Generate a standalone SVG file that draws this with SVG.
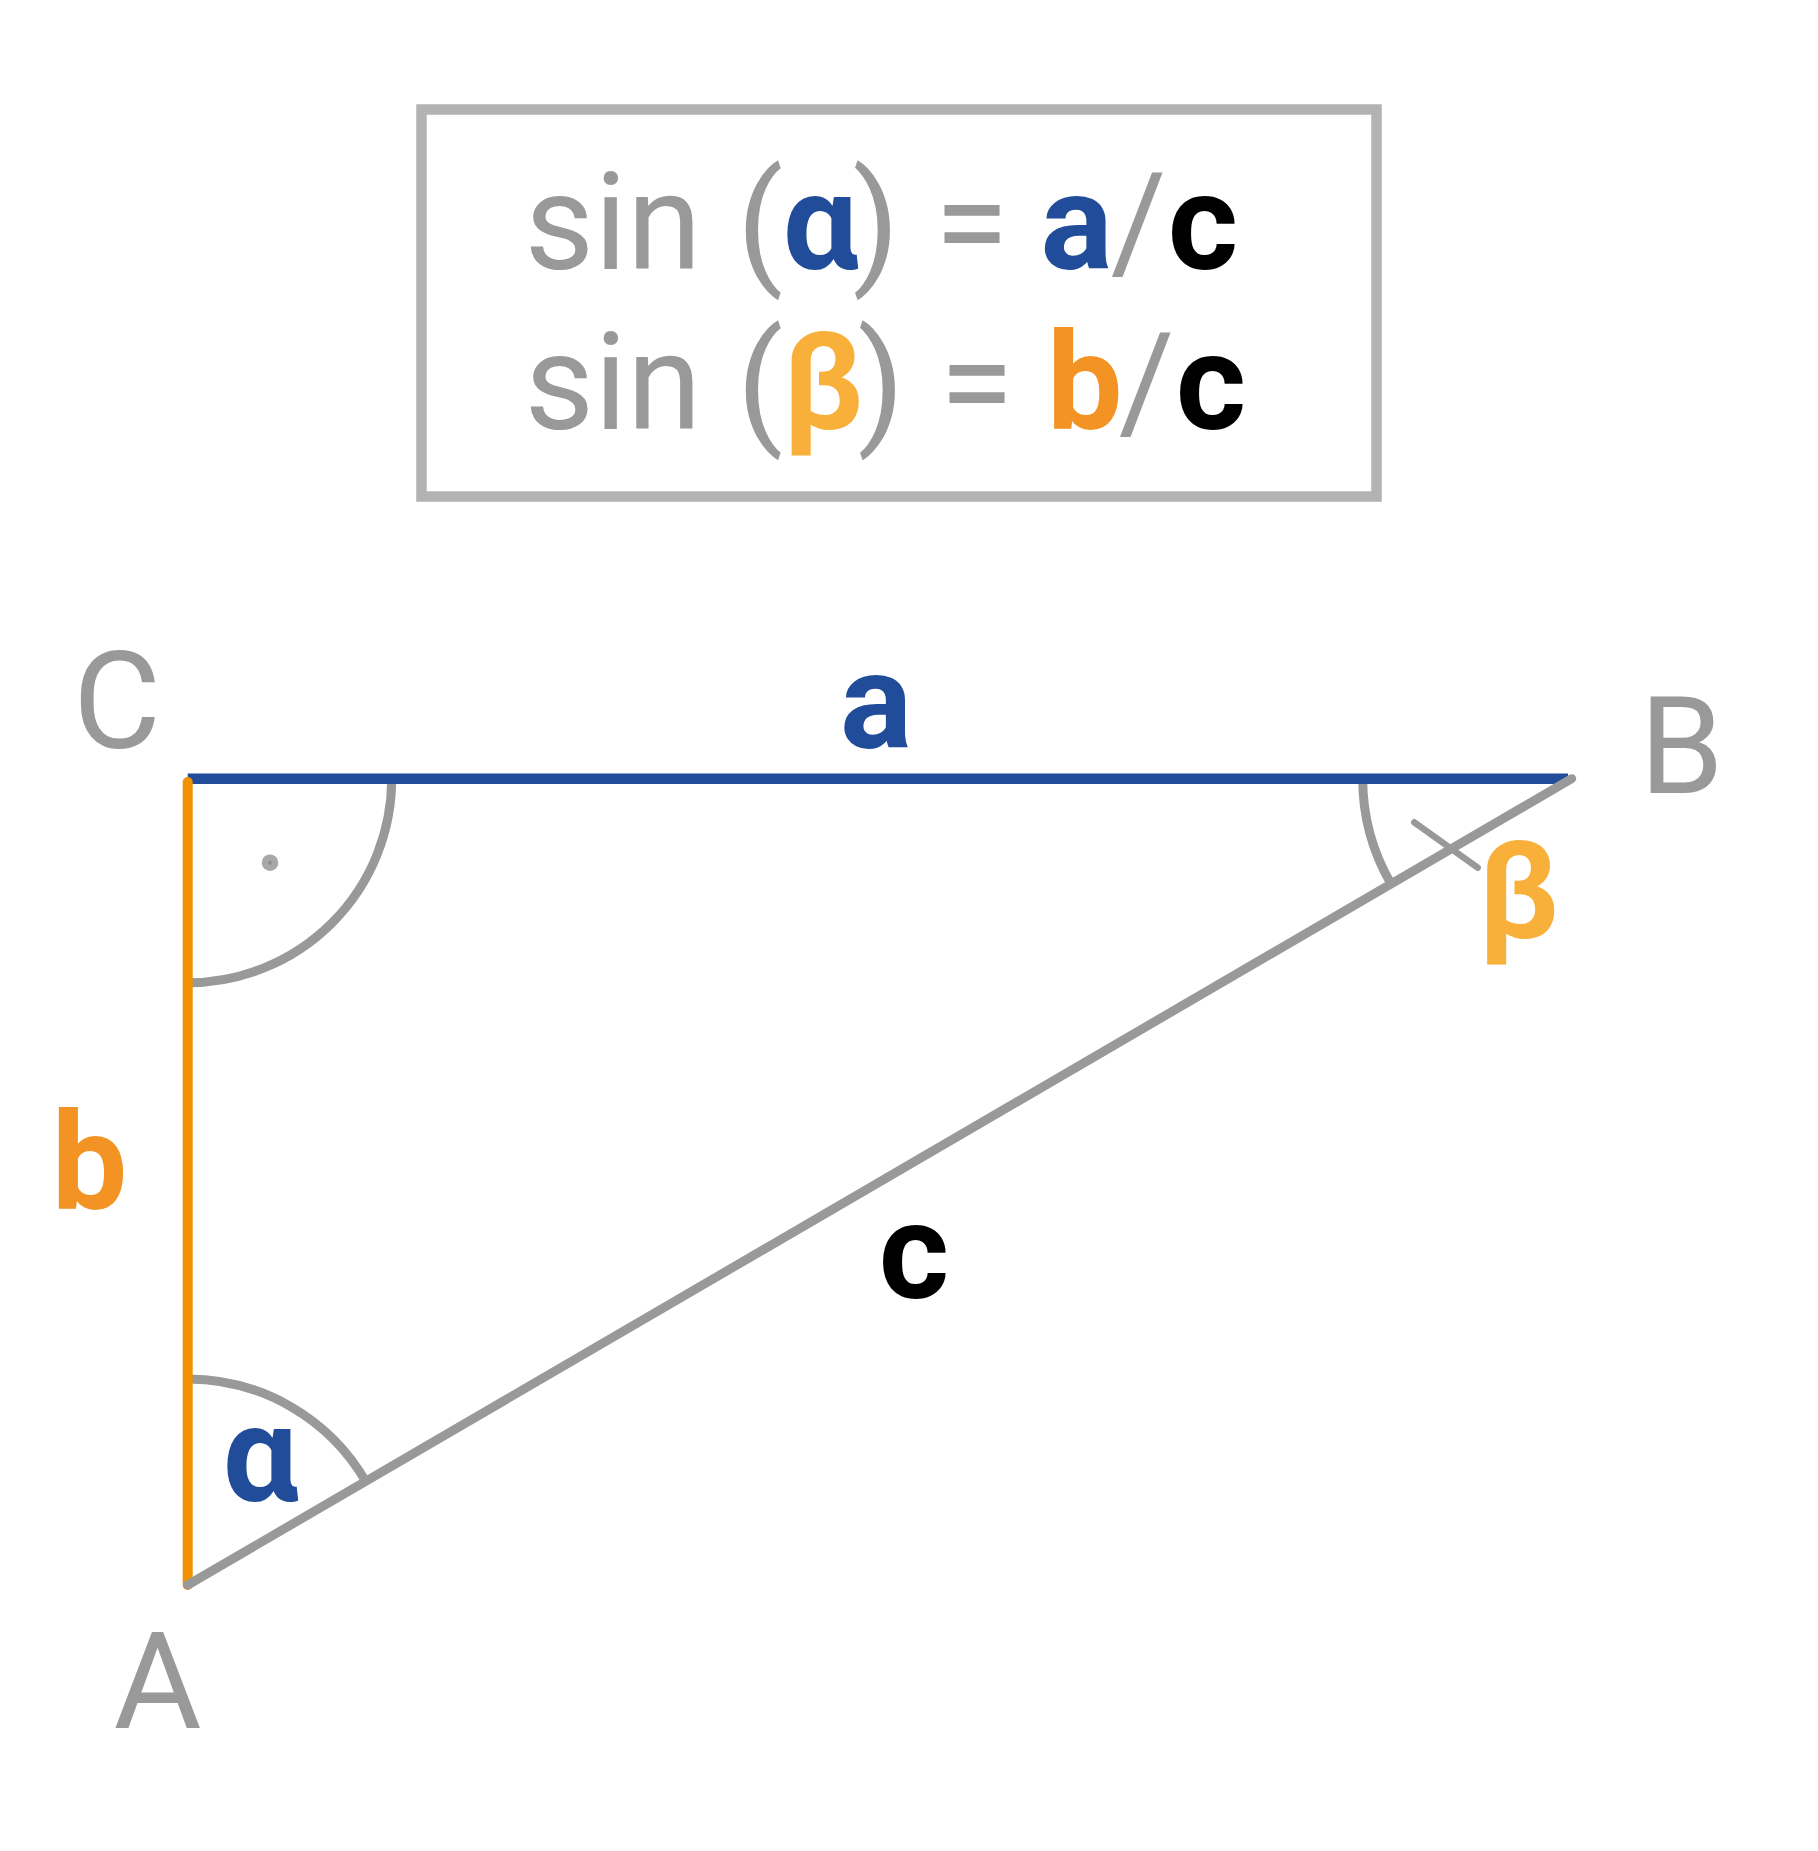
<svg xmlns="http://www.w3.org/2000/svg" width="1818" height="1851" viewBox="0 0 1818 1851">
<style>
text{font-family:Roboto,"Liberation Sans",sans-serif;font-size:135px;text-anchor:middle}
.g{fill:#999999;font-weight:400}
.bl{fill:#214c9a;font-weight:700}
.or{fill:#f39323;font-weight:700}
.ye{fill:#f8b03b;font-weight:700}
.bk{fill:#000000;font-weight:700}
.arc{fill:none;stroke:#999999;stroke-width:9}
</style>
<rect width="1818" height="1851" fill="#ffffff"/>
<g id="formula-box">
<rect x="421.5" y="109.5" width="955" height="387" fill="none" stroke="#b3b3b3" stroke-width="10.5"/>
<text id="formula-1"><tspan class="g" x="613" y="269">sin</tspan><tspan class="g" x="760" y="269">(</tspan><tspan class="bl" x="820.5" y="269">α</tspan><tspan class="g" x="876" y="269">)</tspan><tspan class="g" x="971.5" y="269">=</tspan><tspan class="bl" x="1076.5" y="269">a</tspan><tspan class="g" x="1138.5" y="269">/</tspan><tspan class="bk" x="1203" y="269">c</tspan></text>
<text id="formula-2"><tspan class="g" x="613" y="429">sin</tspan><tspan class="g" x="760" y="429">(</tspan><tspan class="ye" x="823" y="429">β</tspan><tspan class="g" x="881" y="429">)</tspan><tspan class="g" x="976.5" y="429">=</tspan><tspan class="or" x="1084.7" y="429">b</tspan><tspan class="g" x="1146.5" y="429">/</tspan><tspan class="bk" x="1211" y="429">c</tspan></text>
</g>
<g id="angle-marks">
<path class="arc" d="M391.7 778.7 A204 204 0 0 1 187.7 982.7"/>
<path class="arc" d="M187.7 1379 A206 206 0 0 1 366.1 1482"/>
<path class="arc" d="M1362.7 778.7 A209 209 0 0 0 1390.7 883.2"/>
<line x1="1414.3" y1="822.3" x2="1477.7" y2="867.7" stroke="#999999" stroke-width="6.5" stroke-linecap="round"/>
<circle cx="270" cy="862.7" r="8.3" fill="#a8a8a8"/>
<circle cx="270" cy="862.7" r="2" fill="#909090"/>
</g>
<g id="connectors">
<line id="side-a" x1="187.7" y1="778.7" x2="1568" y2="778.7" stroke="#214c9a" stroke-width="10.5"/>
<line id="side-b" x1="187.7" y1="782" x2="187.7" y2="1585" stroke="#f39200" stroke-width="10" stroke-linecap="round"/>
<line id="side-c" x1="187.7" y1="1585" x2="1571.7" y2="778.7" stroke="#999999" stroke-width="9" stroke-linecap="round"/>
</g>
<g id="node-C"><text class="g" x="117" y="748">C</text></g>
<g id="node-B"><text class="g" x="1681.5" y="793">B</text></g>
<g id="node-A"><text class="g" x="157.5" y="1728">A</text></g>
<g id="label-a"><text class="bl" x="876" y="748">a</text></g>
<g id="label-b"><text class="or" x="89.5" y="1209">b</text></g>
<g id="label-c"><text class="bk" x="914" y="1298">c</text></g>
<g id="label-alpha"><text class="bl" x="260.5" y="1501">α</text></g>
<g id="label-beta"><text class="ye" x="1518.5" y="938">β</text></g>
</svg>
